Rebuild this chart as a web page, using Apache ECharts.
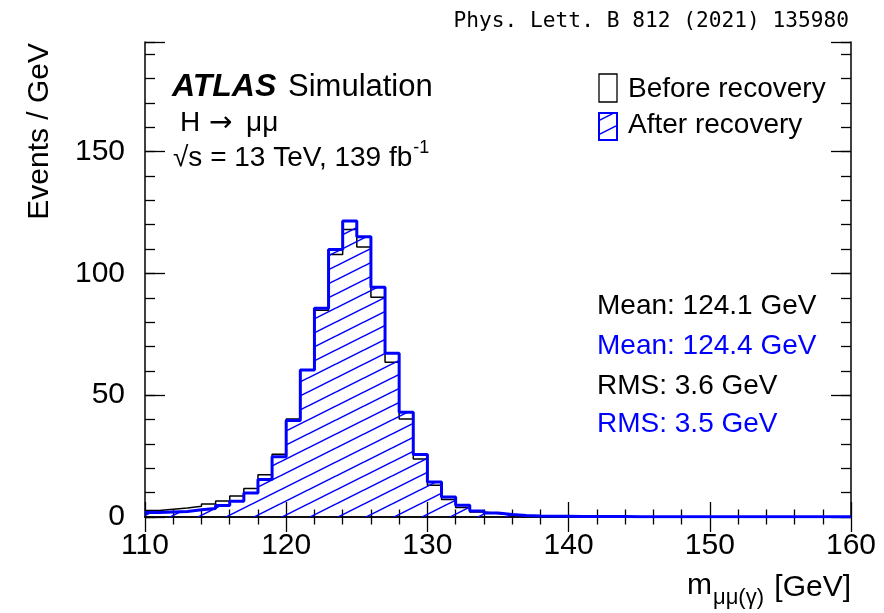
<!DOCTYPE html>
<html>
<head>
<meta charset="utf-8">
<script src="https://cdn.jsdelivr.net/npm/echarts@6/dist/echarts.min.js"></script>
<style>
  html, body { margin: 0; padding: 0; background: #ffffff; }
  #chart { width: 884px; height: 613px; }
</style>
</head>
<body>
<div id="chart"></div>
<script>
// Bin edges of the dimuon(+photon) invariant mass histogram [GeV], 1 GeV bins
const binEdges = [110, 111, 112, 113, 114, 115, 116, 117, 118, 119,
                  120, 121, 122, 123, 124, 125, 126, 127, 128, 129,
                  130, 131, 132, 133, 134, 135, 136, 137, 138, 139,
                  140, 141, 142, 143, 144, 145, 146, 147, 148, 149,
                  150, 151, 152, 153, 154, 155, 156, 157, 158, 159, 160];

// Events per GeV before FSR photon recovery
const beforeRecovery = [2.7, 3.2, 3.7, 4.4, 5.3, 6.6, 8.6, 11.7, 17.3, 25.8,
                        40.2, 60.3, 84.9, 107.8, 118.0, 110.8, 90.2, 63.5, 40.2, 23.8,
                        13.0, 7.2, 3.9, 2.1, 1.4, 0.8, 0.5, 0.4, 0.3, 0.3,
                        0.2, 0.2, 0.2, 0.2, 0.15, 0.15, 0.15, 0.1, 0.1, 0.1,
                        0.1, 0.1, 0.1, 0.1, 0.1, 0.1, 0.1, 0.1, 0.1, 0.1];

// Events per GeV after FSR photon recovery
const afterRecovery = [1.8, 2.1, 2.3, 3.0, 3.5, 4.7, 6.5, 9.9, 15.4, 24.7,
                       39.6, 60.3, 85.7, 109.8, 121.5, 115.0, 94.3, 67.2, 43.0, 25.7,
                       14.4, 8.2, 4.8, 2.5, 1.6, 1.0, 0.6, 0.4, 0.3, 0.3,
                       0.2, 0.2, 0.2, 0.2, 0.15, 0.15, 0.15, 0.1, 0.1, 0.1,
                       0.1, 0.1, 0.1, 0.1, 0.1, 0.1, 0.1, 0.1, 0.1, 0.1];

const xTickLabels = ['110', '120', '130', '140', '150', '160'];
const yTickLabels = ['0', '50', '100', '150'];

const seriesNames = ['Before recovery', 'After recovery'];
const statLines = [
  { text: 'Mean: 124.1 GeV', color: '#000000' },
  { text: 'Mean: 124.4 GeV', color: '#0000ff' },
  { text: 'RMS: 3.6 GeV', color: '#000000' },
  { text: 'RMS: 3.5 GeV', color: '#0000ff' }
];

const FONT = "'Liberation Sans', Arial, Helvetica, sans-serif";
const BLUE = '#0000ff';

// Diagonal hatch tile for the filled histogram
function makeHatch() {
  const c = document.createElement('canvas');
  c.width = 28; c.height = 14;
  const g = c.getContext('2d');
  g.strokeStyle = BLUE;
  g.lineWidth = 1.5;
  for (let k = -1; k <= 1; k++) {
    g.beginPath();
    g.moveTo(0, 14 + 14 * k);
    g.lineTo(28, 14 * k);
    g.stroke();
  }
  return c;
}
const hatch = { image: makeHatch(), repeat: 'repeat' };

// Histogram as step line: each bin contributes its lower edge, plus the final upper edge
function stepPoints(values) {
  const pts = values.map((v, i) => [binEdges[i], v]);
  pts.push([binEdges[binEdges.length - 1], values[values.length - 1]]);
  return pts;
}

function measure(text, font) {
  const g = document.createElement('canvas').getContext('2d');
  g.font = font;
  return g.measureText(text).width;
}

const chart = echarts.init(document.getElementById('chart'), null, { renderer: 'canvas' });

const frameLine = { show: true, lineStyle: { color: '#000', width: 1.5 } };
const xMin = 110, xMax = 160, yMin = 0, yMax = 195;

const commonX = {
  type: 'value', min: xMin, max: xMax, interval: 10,
  splitLine: { show: false },
  axisLine: frameLine,
  axisTick: { show: true, inside: true, length: 15, lineStyle: { color: '#000', width: 1.3 } },
  minorTick: { show: true, splitNumber: 5, length: 7.5, lineStyle: { color: '#000', width: 1.3 } },
};

function yAxisDef(position, interval, tickLen, withLabels, withLine) {
  return {
    type: 'value', position: position, min: yMin, max: yMax, interval: interval,
    splitLine: { show: false },
    axisLine: withLine ? frameLine : { show: false },
    axisTick: { show: true, inside: true, length: tickLen, lineStyle: { color: '#000', width: 1.3 } },
    axisLabel: withLabels ? {
      show: true, margin: 20, color: '#000', fontFamily: FONT, fontSize: 30,
      formatter: v => (yTickLabels.indexOf(String(v)) >= 0 ? String(v) : '')
    } : { show: false }
  };
}

// Text positions for the annotations
const citeFont = "21.2px 'DejaVu Sans Mono', monospace";
const sqrtText = '√s = 13 TeV, 139 fb';
const sqrtW = measure(sqrtText, '28px ' + FONT);

function txt(x, y, text, size, extra) {
  return { type: 'text', x: x, y: y,
    style: Object.assign({ text: text, fontFamily: FONT, fontSize: size, fill: '#000', align: 'left', verticalAlign: 'middle' }, extra || {}) };
}

const graphics = [
  { type: 'text', x: 849, y: 21, style: { text: 'Phys. Lett. B 812 (2021) 135980', font: citeFont, fill: '#000', align: 'right', verticalAlign: 'middle' } },
  txt(172, 87, 'ATLAS', 32, { fontWeight: 'bold', fontStyle: 'italic' }),
  txt(288, 87, 'Simulation', 31),
  txt(180, 123, 'H', 28),
  txt(209, 124, '→', 28, { fontFamily: "'DejaVu Sans', sans-serif" }),
  txt(246, 123, 'μμ', 28),
  txt(173, 158, sqrtText, 28),
  txt(173 + sqrtW + 1, 148, '-1', 18),
  // y-axis title
  txt(40, 43, 'Events / GeV', 30, { align: 'right' }),
  // x-axis title
  txt(851, 588, '[GeV]', 30, { align: 'right' }),
  txt(713, 598, 'μμ(γ)', 22),
  txt(712, 586, 'm', 30, { align: 'right' }),
  // legend
  { type: 'rect', shape: { x: 599, y: 74, width: 18, height: 28 }, style: { fill: 'none', stroke: '#000', lineWidth: 1.3 } },
  txt(628, 89, seriesNames[0], 28),
  { type: 'rect', shape: { x: 599, y: 113, width: 18, height: 27 }, style: { fill: hatch, stroke: BLUE, lineWidth: 2 } },
  txt(628, 125, seriesNames[1], 28)
];
graphics[8].rotation = Math.PI / 2;

const statY = [306, 346, 386, 424];
statLines.forEach((s, i) => {
  graphics.push(txt(597, statY[i], s.text, 28, { fill: s.color }));
});

const option = {
  animation: false,
  backgroundColor: '#ffffff',
  grid: { left: 145, right: 33, top: 42, bottom: 96, containLabel: false },
  xAxis: [
    Object.assign({}, commonX, {
      position: 'bottom',
      axisLabel: {
        show: true, margin: 14, color: '#000', fontFamily: FONT, fontSize: 30,
        formatter: v => (xTickLabels.indexOf(String(v)) >= 0 ? String(v) : '')
      }
    }),
    Object.assign({}, commonX, { position: 'top', axisLabel: { show: false } })
  ],
  yAxis: [
    yAxisDef('left', 50, 20, true, true),
    yAxisDef('left', 10, 10, false, false),
    yAxisDef('right', 50, 20, false, true),
    yAxisDef('right', 10, 10, false, false)
  ],
  series: [
    {
      name: seriesNames[0], type: 'line', step: 'end', xAxisIndex: 0, yAxisIndex: 0,
      data: stepPoints(beforeRecovery), symbol: 'none', z: 2,
      lineStyle: { color: '#000', width: 1.5 }
    },
    {
      name: seriesNames[1], type: 'line', step: 'end', xAxisIndex: 0, yAxisIndex: 0,
      data: stepPoints(afterRecovery), symbol: 'none', z: 3,
      lineStyle: { color: BLUE, width: 3 },
      areaStyle: { color: hatch, opacity: 1, origin: 'start' }
    }
  ],
  graphic: graphics
};
chart.setOption(option);
</script>
</body>
</html>
